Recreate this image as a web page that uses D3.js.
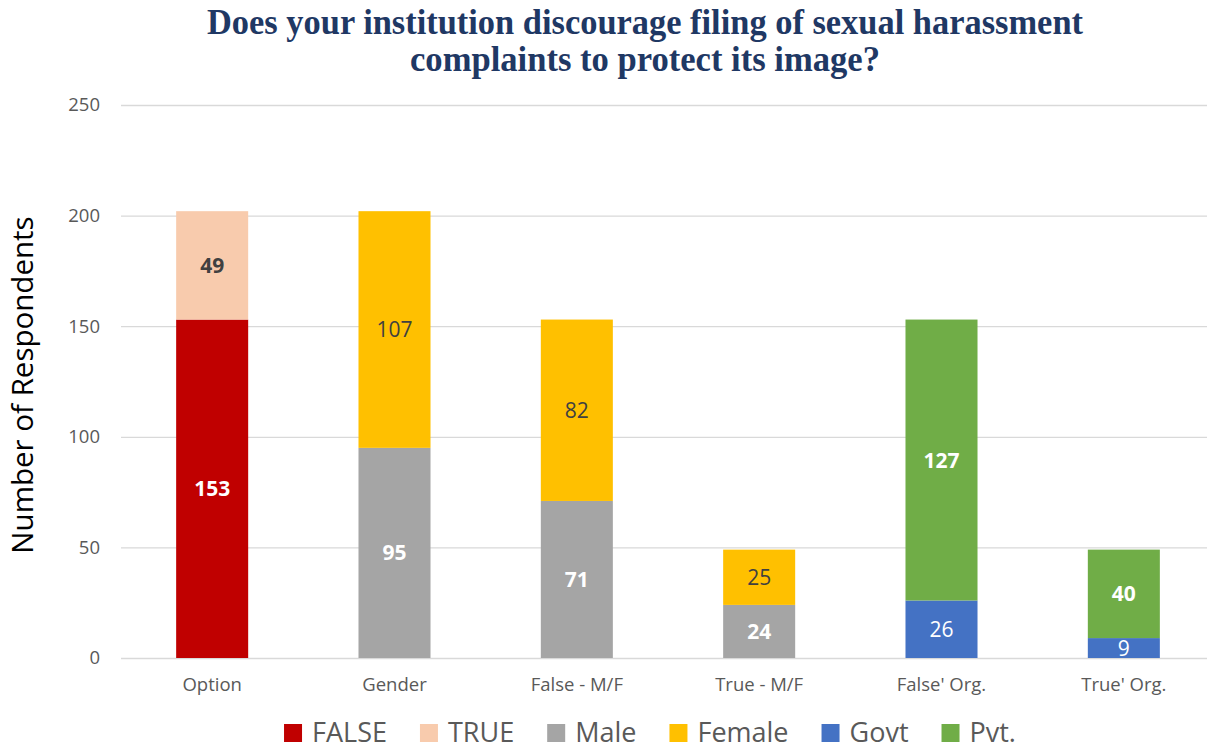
<!DOCTYPE html>
<html>
<head>
<meta charset="utf-8">
<script src="https://cdn.jsdelivr.net/npm/d3@7"></script>
<style>
  html, body { margin: 0; padding: 0; background: #ffffff; }
  svg { display: block; }
</style>
</head>
<body>
<svg id="chart" width="1207" height="750"></svg>
<script>
// Survey responses, stacked per category
const categories = ["Option", "Gender", "False - M/F", "True - M/F", "False' Org.", "True' Org."];
const seriesNames = ["FALSE", "TRUE", "Male", "Female", "Govt", "Pvt."];
const falseValues  = [153, 0, 0, 0, 0, 0];
const trueValues   = [49, 0, 0, 0, 0, 0];
const maleValues   = [0, 95, 71, 24, 0, 0];
const femaleValues = [0, 107, 82, 25, 0, 0];
const govtValues   = [0, 0, 0, 0, 26, 9];
const pvtValues    = [0, 0, 0, 0, 127, 40];
const yTicks = [0, 50, 100, 150, 200, 250];

const titleLines = [
  "Does your institution discourage filing of sexual harassment",
  "complaints to protect its image?"
];
const yAxisTitle = "Number of Respondents";

// Build rows for d3.stack
const seriesValues = [falseValues, trueValues, maleValues, femaleValues, govtValues, pvtValues];
const rows = categories.map((c, i) => {
  const r = { category: c };
  seriesNames.forEach((s, k) => { r[s] = seriesValues[k][i]; });
  return r;
});

// Styling per series
const colors = {
  "FALSE": "#C00000", "TRUE": "#F8CBAD", "Male": "#A5A5A5",
  "Female": "#FFC000", "Govt": "#4472C4", "Pvt.": "#70AD47"
};
const labelStyle = {
  "FALSE":  { fill: "#ffffff", weight: 700 },
  "TRUE":   { fill: "#404040", weight: 700 },
  "Male":   { fill: "#ffffff", weight: 700 },
  "Female": { fill: "#404040", weight: 400 },
  "Govt":   { fill: "#ffffff", weight: 400 },
  "Pvt.":   { fill: "#ffffff", weight: 700 }
};

const svg = d3.select("#chart");
const font = "'Open Sans', sans-serif";

const plot = { left: 121, right: 1215, top: 105, bottom: 658 };

const x = d3.scaleBand()
  .domain(categories)
  .range([plot.left, plot.right])
  .paddingInner(0.605)
  .paddingOuter(0.3025);

const y = d3.scaleLinear()
  .domain([0, 250])
  .range([plot.bottom, plot.top]);

// Title (condensed serif)
svg.append("g").selectAll("text")
  .data(titleLines)
  .join("text")
  .attr("x", 645)
  .attr("y", (d, i) => 34 + i * 37)
  .attr("text-anchor", "middle")
  .attr("font-family", "'Liberation Serif', 'Times New Roman', serif")
  .attr("font-weight", 700)
  .attr("font-size", 35)
  .attr("fill", "#1F3864")
  .attr("textLength", (d, i) => i === 0 ? 876 : 470)
  .attr("lengthAdjust", "spacingAndGlyphs")
  .text(d => d);

// Gridlines and y-axis tick labels
const yAxis = d3.axisLeft(y)
  .tickValues(yTicks)
  .tickSize(-(plot.right - plot.left))
  .tickPadding(21);

const yg = svg.append("g")
  .attr("transform", `translate(${plot.left},0)`)
  .call(yAxis);
yg.select(".domain").remove();
yg.selectAll(".tick line")
  .attr("stroke", "#D9D9D9")
  .attr("stroke-width", 1.3);
yg.selectAll(".tick text")
  .attr("font-family", font)
  .attr("font-size", 18.5)
  .attr("fill", "#595959");

// Stacked bars
const stacked = d3.stack().keys(seriesNames)(rows);

const layers = svg.append("g").selectAll("g")
  .data(stacked)
  .join("g")
  .attr("fill", d => colors[d.key]);

layers.selectAll("rect")
  .data(d => d.filter(p => p[1] - p[0] > 0))
  .join("rect")
  .attr("x", d => x(d.data.category))
  .attr("y", d => y(d[1]))
  .attr("width", x.bandwidth())
  .attr("height", d => y(d[0]) - y(d[1]));

// Value labels centered in each segment
const labels = svg.append("g");
stacked.forEach(layer => {
  const st = labelStyle[layer.key];
  labels.selectAll(null)
    .data(layer.filter(p => p[1] - p[0] > 0))
    .join("text")
    .attr("x", d => x(d.data.category) + x.bandwidth() / 2)
    .attr("y", d => y((d[0] + d[1]) / 2))
    .attr("dy", "0.36em")
    .attr("text-anchor", "middle")
    .attr("font-family", font)
    .attr("font-size", 21)
    .attr("font-weight", st.weight)
    .attr("fill", st.fill)
    .text(d => d[1] - d[0]);
});

// Category axis labels
const xAxis = d3.axisBottom(x).tickSize(0).tickPadding(20);
const xg = svg.append("g")
  .attr("transform", `translate(0,${plot.bottom})`)
  .call(xAxis);
xg.select(".domain").remove();
xg.selectAll(".tick text")
  .attr("font-family", font)
  .attr("font-size", 18.5)
  .attr("fill", "#595959");

// Y-axis title
svg.append("text")
  .attr("transform", "translate(33,385) rotate(-90)")
  .attr("text-anchor", "middle")
  .attr("font-family", font)
  .attr("font-size", 29.5)
  .attr("fill", "#000000")
  .text(yAxisTitle);

// Legend along the bottom
const legend = svg.append("g");
const sw = 18, gapText = 10, gapItem = 33;
const items = legend.selectAll("g")
  .data(seriesNames)
  .join("g");
items.append("rect")
  .attr("width", sw)
  .attr("height", sw)
  .attr("y", -sw / 2)
  .attr("fill", d => colors[d]);
items.append("text")
  .attr("x", sw + gapText)
  .attr("dy", "0.35em")
  .attr("font-family", font)
  .attr("font-size", 27)
  .attr("fill", "#595959")
  .text(d => d);

let cursor = 0;
const offsets = [];
items.each(function () {
  const w = d3.select(this).select("text").node().getComputedTextLength();
  offsets.push(cursor);
  cursor += sw + gapText + w + gapItem;
});
const total = cursor - gapItem;
const startX = 650 - total / 2;
items.attr("transform", (d, i) => `translate(${startX + offsets[i]},733)`);
</script>
</body>
</html>
